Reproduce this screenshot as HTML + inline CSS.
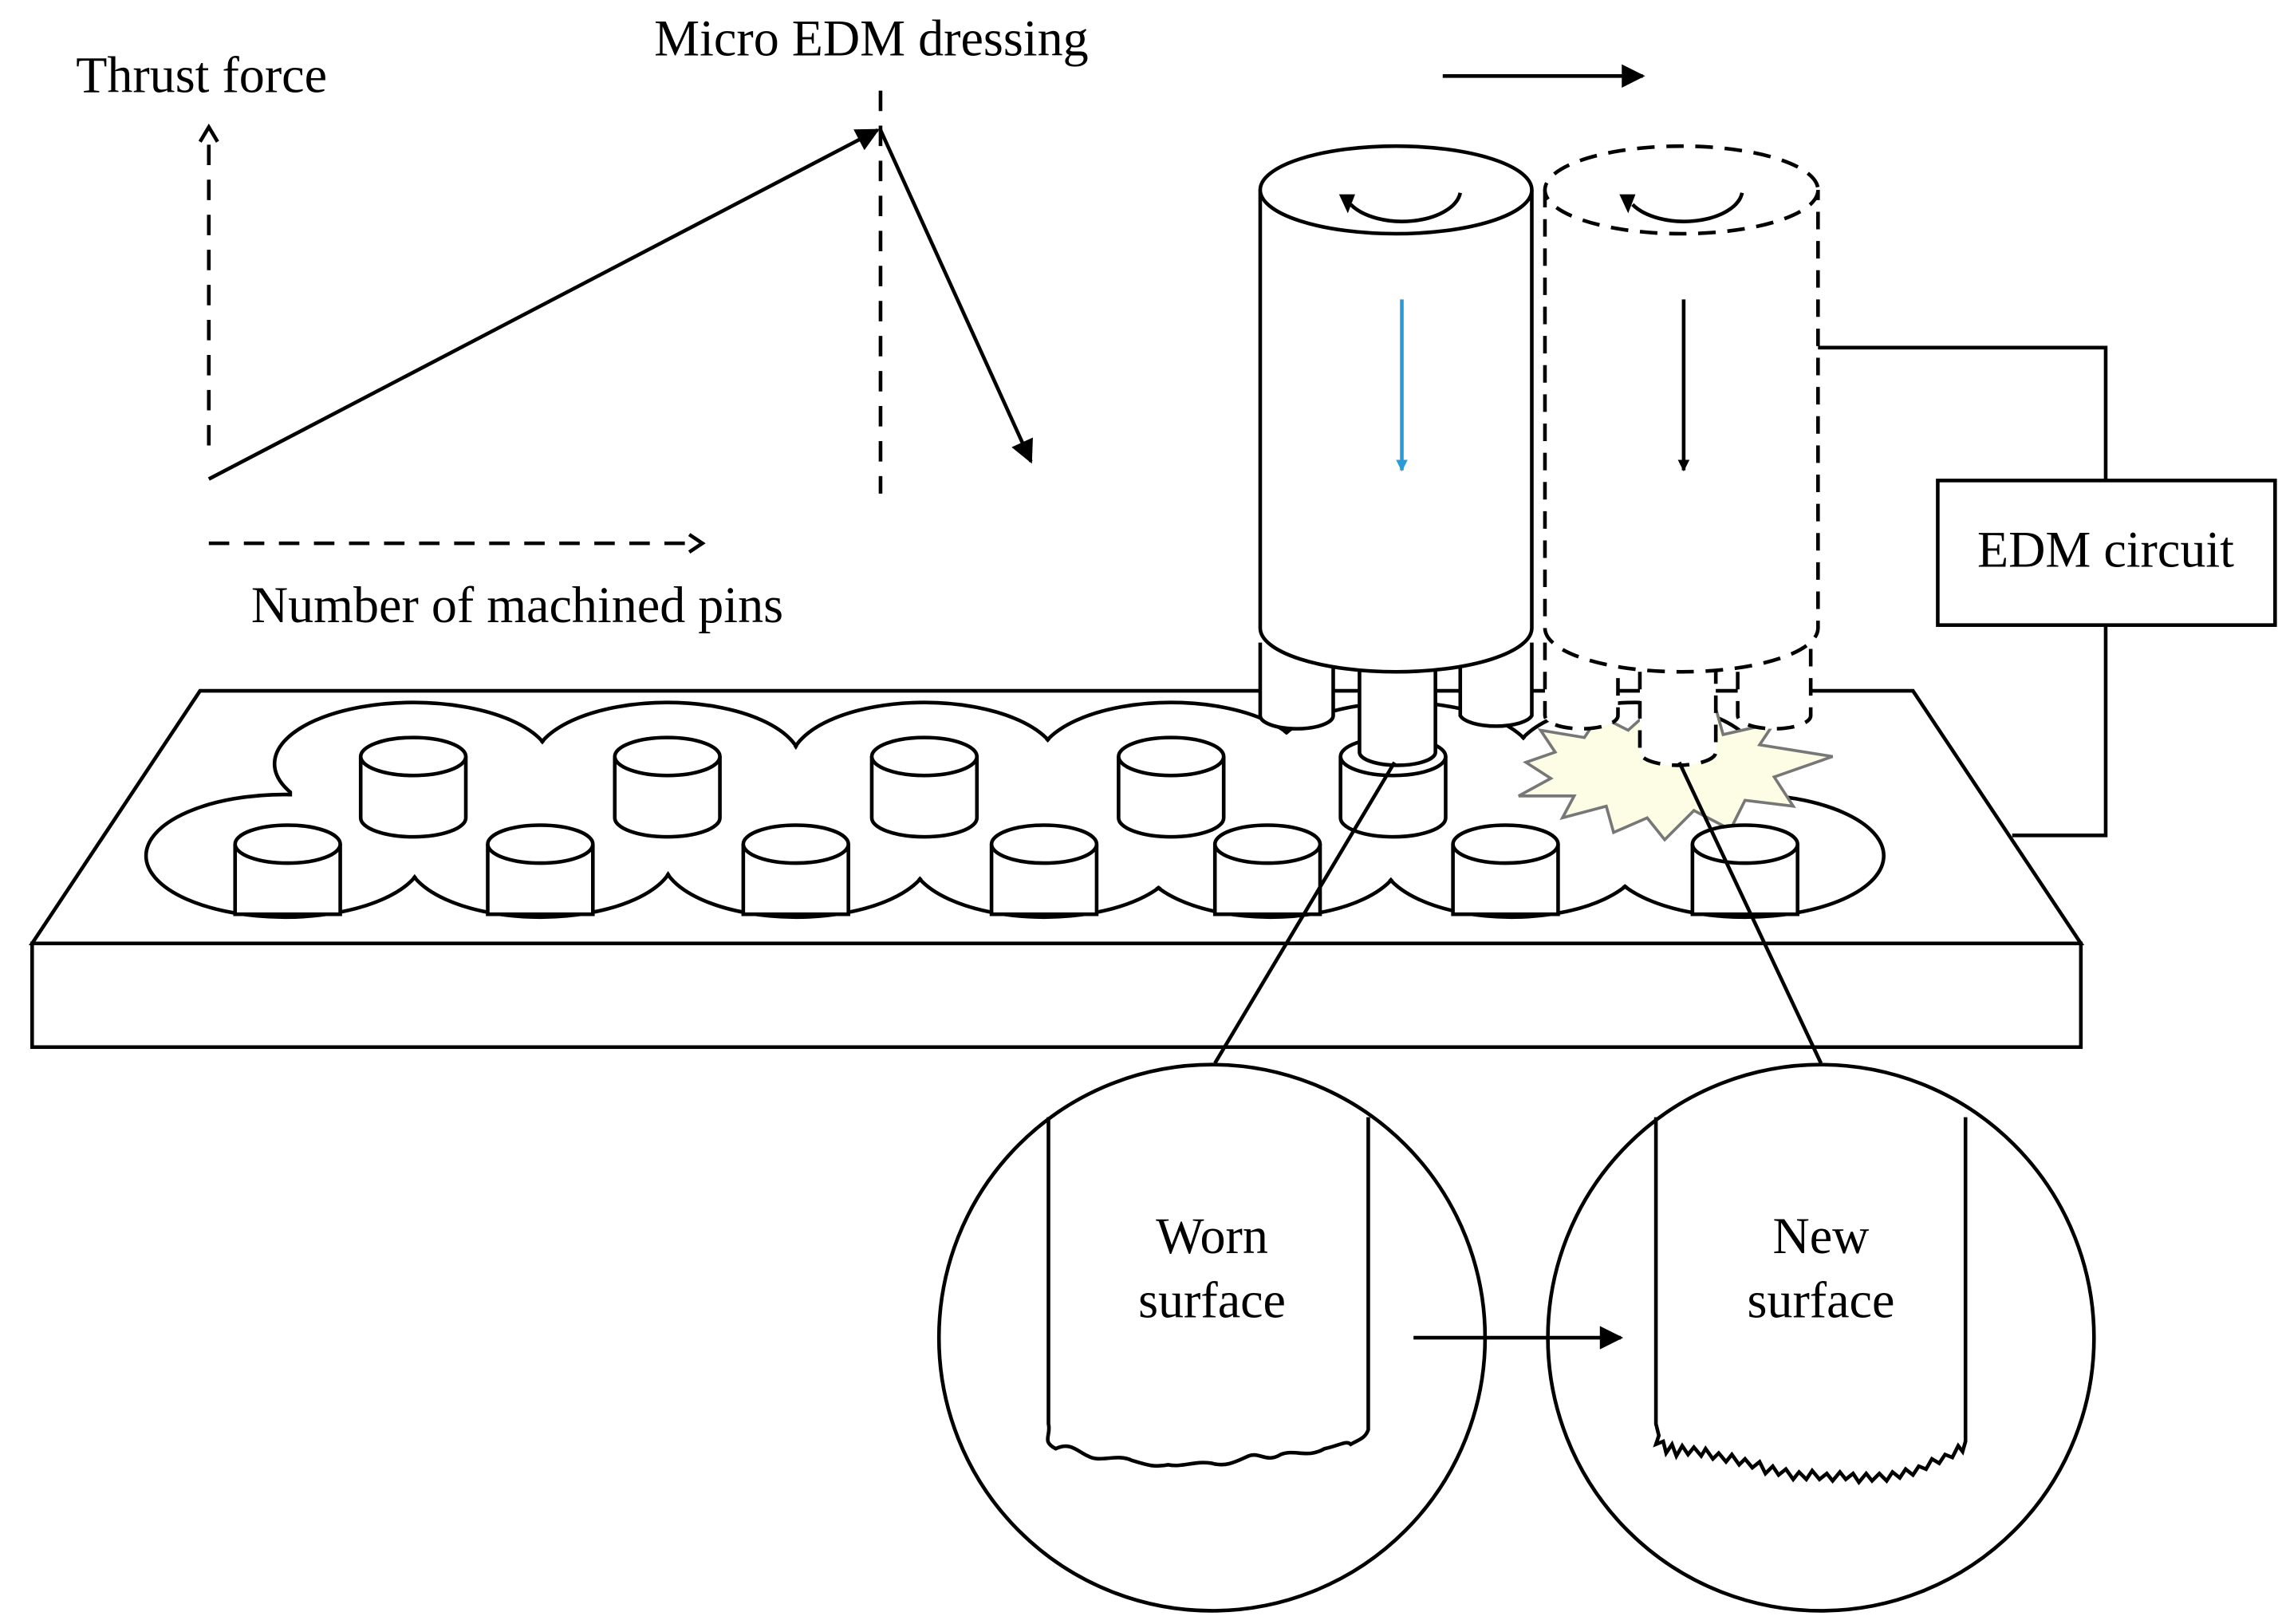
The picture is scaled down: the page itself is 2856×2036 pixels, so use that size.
<!DOCTYPE html>
<html><head><meta charset="utf-8"><style>
html,body{margin:0;padding:0;background:#fff}
svg{display:block}
text{font-family:"Liberation Serif",serif;fill:#000}
</style></head><body>
<svg width="2856" height="2036" viewBox="0 0 1560 1112" xmlns="http://www.w3.org/2000/svg">
<defs>
<marker id="ah" viewBox="0 0 10 10" refX="9" refY="5" markerWidth="8" markerHeight="8" orient="auto" markerUnits="userSpaceOnUse"><path d="M0,0 L10,5 L0,10 z" fill="#000"/></marker>
<marker id="ahb" viewBox="0 0 10 10" refX="9" refY="5" markerWidth="8" markerHeight="8" orient="auto" markerUnits="userSpaceOnUse"><path d="M0,0 L10,5 L0,10 z" fill="#2a9ad8"/></marker>
<marker id="big" viewBox="0 0 10 10" refX="9" refY="5" markerWidth="22" markerHeight="16" orient="auto" markerUnits="userSpaceOnUse"><path d="M0,0 L10,5 L0,10 z" fill="#000"/></marker>
</defs>
<g fill="none" stroke="#000" stroke-width="2.5">
<line x1="143" y1="305" x2="143" y2="90" stroke-dasharray="14,10"/>
<path d="M137,97 L143,87 L149,97"/>
<line x1="143" y1="372" x2="478" y2="372" stroke-dasharray="14,10"/>
<path d="M472,366 L481,372 L472,378"/>
<line x1="603" y1="62" x2="603" y2="338" stroke-dasharray="14,10"/>
<line x1="143" y1="328" x2="601" y2="89" marker-end="url(#big)"/>
<line x1="603" y1="89" x2="706" y2="316" marker-end="url(#big)"/>
<line x1="988" y1="52" x2="1125" y2="52" marker-end="url(#big)"/>
<path d="M137,473 L1310,473 L1425,646 L22,646 Z" fill="#fff"/>
<rect x="22" y="646" width="1403" height="71" fill="#fff"/>
<g>
<ellipse cx="195" cy="586" rx="95" ry="42"/><ellipse cx="370" cy="586" rx="92" ry="42"/><ellipse cx="545" cy="586" rx="92" ry="42"/><ellipse cx="715" cy="586" rx="92" ry="42"/><ellipse cx="870" cy="586" rx="90" ry="42"/><ellipse cx="1035" cy="586" rx="90" ry="42"/><ellipse cx="1195" cy="586" rx="95" ry="42"/>
<ellipse cx="283" cy="523" rx="95" ry="42"/><ellipse cx="457" cy="523" rx="92" ry="42"/><ellipse cx="633" cy="523" rx="92" ry="42"/><ellipse cx="802" cy="523" rx="92" ry="42"/><ellipse cx="960" cy="523" rx="92" ry="42"/><ellipse cx="1120" cy="523" rx="85" ry="42"/>
</g>
<g fill="#fff" stroke="none">
<ellipse cx="195" cy="586" rx="93.5" ry="40.5"/><ellipse cx="370" cy="586" rx="90.5" ry="40.5"/><ellipse cx="545" cy="586" rx="90.5" ry="40.5"/><ellipse cx="715" cy="586" rx="90.5" ry="40.5"/><ellipse cx="870" cy="586" rx="88.5" ry="40.5"/><ellipse cx="1035" cy="586" rx="88.5" ry="40.5"/><ellipse cx="1195" cy="586" rx="93.5" ry="40.5"/>
<ellipse cx="283" cy="523" rx="93.5" ry="40.5"/><ellipse cx="457" cy="523" rx="90.5" ry="40.5"/><ellipse cx="633" cy="523" rx="90.5" ry="40.5"/><ellipse cx="802" cy="523" rx="90.5" ry="40.5"/><ellipse cx="960" cy="523" rx="90.5" ry="40.5"/><ellipse cx="1120" cy="523" rx="83.5" ry="40.5"/>
<rect x="200" y="530" width="1000" height="60"/>
</g>
<path d="M1045,522 L1065,515 L1055,500 L1085,505 L1095,490 L1115,500 L1135,482 L1145,498 L1175,485 L1180,503 L1215,495 L1205,510 L1255,518 L1215,532 L1228,552 L1195,548 L1185,568 L1160,555 L1140,575 L1128,560 L1105,570 L1100,552 L1070,560 L1078,545 L1040,545 L1062,533 Z" fill="#fdfde6" stroke="#777" stroke-width="2"/>
<g fill="#fff">
<path d="M247,518 v42 a36,13 0 0 0 72,0 v-42"/><ellipse cx="283" cy="518" rx="36" ry="13"/>
<path d="M421,518 v42 a36,13 0 0 0 72,0 v-42"/><ellipse cx="457" cy="518" rx="36" ry="13"/>
<path d="M597,518 v42 a36,13 0 0 0 72,0 v-42"/><ellipse cx="633" cy="518" rx="36" ry="13"/>
<path d="M766,518 v42 a36,13 0 0 0 72,0 v-42"/><ellipse cx="802" cy="518" rx="36" ry="13"/>
<path d="M918,518 v42 a36,13 0 0 0 72,0 v-42"/><ellipse cx="954" cy="518" rx="36" ry="13"/>
<path d="M161,578 v48 h72 v-48"/><ellipse cx="197" cy="578" rx="36" ry="13"/>
<path d="M334,578 v48 h72 v-48"/><ellipse cx="370" cy="578" rx="36" ry="13"/>
<path d="M509,578 v48 h72 v-48"/><ellipse cx="545" cy="578" rx="36" ry="13"/>
<path d="M679,578 v48 h72 v-48"/><ellipse cx="715" cy="578" rx="36" ry="13"/>
<path d="M832,578 v48 h72 v-48"/><ellipse cx="868" cy="578" rx="36" ry="13"/>
<path d="M995,578 v48 h72 v-48"/><ellipse cx="1031" cy="578" rx="36" ry="13"/>
<path d="M1159,578 v48 h72 v-48"/><ellipse cx="1195" cy="578" rx="36" ry="13"/>
</g>
<g fill="#fff">
<path d="M863,440 v50 a25,9 0 0 0 50,0 v-50"/>
<path d="M1000,440 v50 a25,9 0 0 0 49,0 v-50"/>
<path d="M931,440 v75 a26,9 0 0 0 52,0 v-75"/>
<path d="M863,130 V430 a93,30 0 0 0 186,0 V130"/>
<ellipse cx="956" cy="130" rx="93" ry="30"/>
</g>
<path d="M925,140 a40,22 0 0 0 75,-8"/>
<path d="M917,133 l6,13 l5,-13" fill="#000" stroke="none"/>
<line x1="960" y1="205" x2="960" y2="322" stroke="#2a9ad8" marker-end="url(#ahb)"/>
<g fill="#fff" stroke-dasharray="12,8">
<path d="M1058,440 v50 a25,9 0 0 0 50,0 v-50"/>
<path d="M1190,440 v50 a25,9 0 0 0 50,0 v-50"/>
<path d="M1123,440 v75 a26,9 0 0 0 52,0 v-75"/>
<path d="M1058,130 V430 a93.5,30 0 0 0 187,0 V130"/>
<ellipse cx="1151.5" cy="130" rx="93.5" ry="30"/>
</g>
<path d="M1118,140 a40,22 0 0 0 75,-8"/>
<path d="M1109,133 l6,13 l5,-13" fill="#000" stroke="none"/>
<line x1="1153" y1="205" x2="1153" y2="322" marker-end="url(#ah)"/>
<polyline points="1245,238 1442,238 1442,329"/>
<polyline points="1442,428 1442,572 1378,572"/>
<rect x="1327" y="329" width="231" height="99" fill="#fff"/>
<line x1="955" y1="522" x2="832" y2="728"/>
<line x1="1150" y1="522" x2="1247" y2="728"/>
<circle cx="830" cy="916" r="187" fill="#fff"/>
<circle cx="1247" cy="916" r="187" fill="#fff"/>
<path d="M718,765 V975 c2,8 -5,12 5,17 c10,-5 15,2 22,5 c8,5 20,-2 30,3 c10,3 15,5 25,3 c10,2 18,-3 30,-1 c10,3 18,-2 25,-5 c8,-3 12,5 22,-1 c10,-4 18,3 30,-4 c10,-2 15,-6 18,-3 c5,-3 10,-4 12,-10 V765"/>
<path d="M1134,765 V975 l2,8 l-2,6 l5,-2 l2,8 l4,-6 l3,8 l4,-7 l4,6 l4,-5 l5,6 l3,-5 l5,7 l4,-4 l5,6 l4,-5 l5,7 l4,-4 l5,6 l5,-4 l4,8 l5,-5 l4,6 l5,-4 l5,7 l4,-5 l5,5 l4,-6 l5,6 l5,-4 l4,5 l5,-6 l4,5 l5,-4 l4,6 l5,-6 l4,5 l5,-5 l5,5 l4,-6 l5,4 l4,-6 l5,4 l4,-6 l5,2 l4,-7 l5,3 l4,-6 l5,2 l4,-8 l3,4 l2,-7 V765"/>
<line x1="968" y1="916" x2="1110" y2="916" marker-end="url(#big)"/>
</g>
<g font-size="35">
<text x="52" y="63">Thrust force</text>
<text x="448" y="38">Micro EDM dressing</text>
<text x="172" y="426">Number of machined pins</text>
<text x="1442" y="388" text-anchor="middle">EDM circuit</text>
<text x="830" y="858" text-anchor="middle">Worn</text>
<text x="830" y="902" text-anchor="middle">surface</text>
<text x="1247" y="858" text-anchor="middle">New</text>
<text x="1247" y="902" text-anchor="middle">surface</text>
</g>
</svg>
</body></html>
